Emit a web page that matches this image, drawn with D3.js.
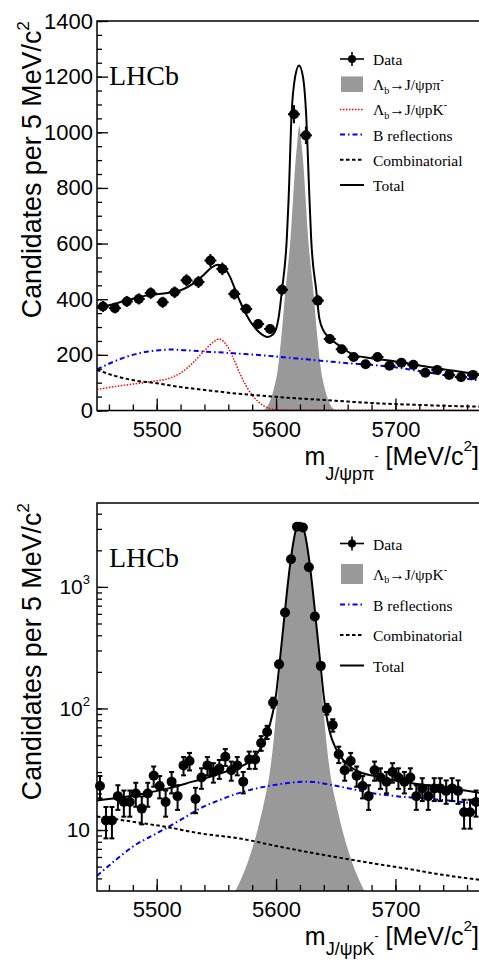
<!DOCTYPE html>
<html>
<head>
<meta charset="utf-8">
<script src="https://cdn.jsdelivr.net/npm/d3@7"></script>
<style>
body { margin: 0; background: #fff; }
svg { display: block; }
</style>
</head>
<body>
<svg id="chart" width="479" height="961"></svg>
<script>
"use strict";

// ---------- shared ----------
const massTicks = [5500, 5600, 5700];
const massMinorTicks = [5460, 5480, 5500, 5520, 5540, 5560, 5580, 5600, 5620, 5640, 5660, 5680, 5700, 5720, 5740, 5760];

// ---------- upper panel: m(J/psi p pi-) ----------
const topYTicks = [0, 200, 400, 600, 800, 1000, 1200, 1400];
const topBins = [5455, 5465, 5475, 5485, 5495, 5505, 5515, 5525, 5535, 5545, 5555, 5565, 5575, 5585, 5595, 5605,
    5615, 5625, 5635, 5645, 5655, 5665, 5675, 5685, 5695, 5705, 5715, 5725, 5735, 5745, 5755, 5765];
const topCounts = [374, 368, 392, 401, 422, 389, 425, 468, 462, 539, 509, 419, 365, 311, 293, 434,
    1065, 989, 395, 257, 220, 192, 166, 192, 161, 172, 164, 136, 146, 128, 120, 128];
const topSignal = [[5588.5, 0], [5591.5, 8], [5594.5, 30], [5597.9, 74], [5601.5, 150], [5604.2, 254], [5606, 340],
    [5607.9, 434], [5610, 520], [5612, 614], [5614.5, 780], [5616, 879], [5617.5, 950], [5619.5, 1023],
    [5621.5, 950], [5623, 879], [5624.5, 780], [5627, 614], [5629, 520], [5631.1, 434], [5633, 340],
    [5634.8, 254], [5637.5, 150], [5641.1, 74], [5644.5, 30], [5647.5, 8], [5650.5, 0]];
const topPKReflection = [[5450, 76], [5465, 86], [5480, 95], [5495, 104], [5510, 115], [5520, 135], [5530, 170],
    [5540, 215], [5548, 248], [5552, 257], [5556, 248], [5560, 225], [5565, 180], [5570, 130], [5575, 88],
    [5580, 55], [5585, 32], [5590, 16], [5595, 7], [5600, 3], [5610, 1], [5640, 0.5], [5770, 0.5]];
const topBReflection = [[5450, 148], [5460, 168], [5470, 186], [5480, 200], [5490, 210], [5500, 216], [5510, 219],
    [5520, 218], [5530, 215], [5540, 212], [5560, 207], [5580, 201], [5600, 194], [5620, 186], [5640, 178],
    [5660, 170], [5680, 164], [5700, 155], [5720, 142], [5740, 128], [5760, 114], [5770, 108]];
const topCombinatorial = [[5450, 146], [5467, 122], [5483, 107], [5500, 98], [5517, 86], [5540, 74], [5560, 64],
    [5580, 56], [5600, 49], [5620, 43], [5640, 38], [5660, 32], [5680, 27], [5700, 23], [5720, 20], [5740, 17], [5770, 14]];
const topTotal = [[5450, 368], [5460, 378], [5470, 390], [5480, 402], [5490, 412], [5500, 418], [5510, 423],
    [5520, 432], [5530, 454], [5540, 490], [5546, 514], [5551, 524], [5556, 516], [5561, 484], [5566, 432],
    [5570, 390], [5575, 345], [5580, 310], [5585, 285], [5590, 268], [5593, 264], [5597, 272], [5600, 292],
    [5602, 330], [5605, 434], [5609, 618], [5610.5, 759], [5613, 1065], [5616, 1200], [5619.3, 1240],
    [5622.5, 1200], [5625.2, 1065], [5628, 759], [5629.4, 618], [5633.6, 434], [5636.3, 330], [5640, 285],
    [5644, 264], [5654, 230], [5665, 200], [5680, 188], [5700, 176], [5720, 162], [5740, 148], [5760, 136], [5770, 130]];

// ---------- lower panel: m(J/psi p K-) ----------
const botYTicks = [10, 100, 1000];
const botYLabels = ["10", "10^2", "10^3"];
const botBins = [5452.5, 5457.5, 5462.5, 5467.5, 5472.5, 5477.5, 5482.5, 5487.5, 5492.5, 5497.5,
    5502.5, 5507.5, 5512.5, 5517.5, 5522.5, 5527.5, 5532.5, 5537.5, 5542.5, 5547.5,
    5552.5, 5557.5, 5562.5, 5567.5, 5572.5, 5577.5, 5582.5, 5587.5, 5592.5, 5597.5,
    5602.5, 5607.5, 5612.5, 5617.5, 5622.5, 5627.5, 5632.5, 5637.5, 5642.5, 5647.5,
    5652.5, 5657.5, 5662.5, 5667.5, 5672.5, 5677.5, 5682.5, 5687.5, 5692.5, 5697.5,
    5702.5, 5707.5, 5712.5, 5717.5, 5722.5, 5727.5, 5732.5, 5737.5, 5742.5, 5747.5,
    5752.5, 5757.5, 5762.5, 5767.5];
const botCounts = [23, 12, 12, 19, 17, 17, 20, 15, 20, 28,
    23, 17, 25, 19, 34, 37, 18, 27, 34, 30,
    32, 40, 31, 34, 25, 38, 38, 52, 64, 112,
    231, 615, 1690, 3130, 3080, 1452, 570, 224, 99, 73,
    42, 31, 37, 28, 23, 19, 31, 27, 25, 30,
    27, 25, 27, 19, 22, 19, 22, 22, 21, 22,
    21, 14, 14, 17];
const botSignal = [[5562, 2.6], [5566, 3.15], [5570, 3.8], [5575, 5.0], [5580, 7.0], [5585, 10.5], [5590, 17],
    [5595, 31], [5598, 55], [5600, 90], [5603, 200], [5606, 420], [5609, 850], [5612, 1550], [5615, 2450],
    [5617.5, 3100], [5620, 3330], [5622.5, 3100], [5625, 2450], [5628, 1550], [5631, 850], [5634, 420],
    [5637, 200], [5640, 90], [5642, 55], [5645, 31], [5650, 17], [5655, 10.5], [5660, 7.0], [5665, 5.0],
    [5670, 3.8], [5674, 3.15], [5678, 2.6]];
const botBReflection = [[5450, 4.2], [5465, 5.6], [5480, 7.3], [5500, 9.4], [5520, 12.1], [5536, 15], [5553, 17.7],
    [5570, 20.3], [5598, 23.4], [5626, 25], [5654, 22.7], [5682, 20], [5710, 18.6], [5738, 17.7], [5770, 16.4]];
const botCombinatorial = [[5450, 12.9], [5480, 11.7], [5508, 10.6], [5536, 9.4], [5570, 8.5], [5600, 7.4],
    [5626, 6.6], [5654, 5.9], [5682, 5.3], [5710, 4.8], [5738, 4.3], [5770, 3.9]];
const botTotal = [[5450, 17.5], [5470, 18.5], [5490, 20], [5510, 22], [5530, 25], [5550, 28.5], [5565, 32],
    [5575, 35], [5582, 40], [5587, 47], [5591, 57], [5595, 75], [5598, 100], [5600, 130], [5603, 240],
    [5606, 460], [5609, 890], [5612, 1590], [5615, 2490], [5617.5, 3140], [5620, 3370], [5622.5, 3140],
    [5625, 2490], [5628, 1590], [5631, 890], [5634, 460], [5637, 240], [5640, 125], [5642, 90], [5645, 64],
    [5650, 47], [5655, 39], [5660, 34.5], [5670, 30], [5685, 27.5], [5700, 25.5], [5720, 23.8], [5740, 22.4],
    [5760, 21], [5770, 20.3]];

const SANS = "'Liberation Sans', Arial, Helvetica, sans-serif";
const SERIF = "'Liberation Serif', 'Times New Roman', Times, serif";
const BLUE = "#0000ff";
const RED = "#ff0000";
const GREY = "#999999";

const svg = d3.select("#chart");
const x = d3.scaleLinear().domain([5450, 5770]).range([97, 479]);

// text made of pieces: [string, mode], mode = "", "sub", "sup", "subsup"
function richText(sel, parts, fs, shifts) {
    let cur = 0;
    parts.forEach(function(p) {
        let s = shifts[p[1] || ""];
        let off = s[0] * fs;
        sel.append("tspan")
            .attr("dy", off - cur)
            .attr("font-size", s[1] * fs)
            .text(p[0]);
        cur = off;
    });
}

function styleAxis(g, fs) {
    g.select(".domain").remove();
    g.selectAll(".tick line").attr("stroke", "#000").attr("stroke-width", 1.3);
    g.selectAll("text")
        .attr("fill", "#000")
        .style("font-family", SANS)
        .style("font-size", fs + "px");
}

function drawPanel(p) {
    let g = svg.append("g");
    let y = p.y;

    g.append("clipPath").attr("id", p.id + "clip")
        .append("rect")
        .attr("x", 97).attr("y", p.top)
        .attr("width", 400).attr("height", p.bottom - p.top);

    let plot = g.append("g").attr("clip-path", `url(#${p.id}clip)`);

    plot.append("path")
        .datum(p.signal)
        .attr("fill", GREY)
        .attr("d", d3.area()
            .x(d => x(d[0]))
            .y0(p.bottom + 5)
            .y1(d => y(d[1]))
            .curve(d3.curveMonotoneX));

    // frame
    g.append("rect")
        .attr("x", 97).attr("y", p.top)
        .attr("width", 400).attr("height", p.bottom - p.top)
        .attr("fill", "none").attr("stroke", "#000").attr("stroke-width", 1.5);

    let line = d3.line().x(d => x(d[0])).y(d => y(d[1])).curve(d3.curveMonotoneX);
    p.curves.forEach(function(c) {
        plot.append("path")
            .datum(c.data)
            .attr("fill", "none")
            .attr("stroke", c.color)
            .attr("stroke-width", c.width)
            .attr("stroke-dasharray", c.dash)
            .attr("d", line);
    });

    // x axis
    let xa = g.append("g").attr("transform", `translate(0,${p.bottom})`)
        .call(d3.axisBottom(x).tickValues(massTicks).tickSize(-12).tickPadding(10.5).tickFormat(d3.format("d")));
    styleAxis(xa, 22);
    let xm = g.append("g").attr("transform", `translate(0,${p.bottom})`)
        .call(d3.axisBottom(x).tickValues(massMinorTicks).tickSize(-6).tickFormat(""));
    styleAxis(xm, 22);

    // y axis
    let ya = g.append("g").attr("transform", "translate(97,0)")
        .call(d3.axisLeft(y).tickValues(p.yTicks).tickSize(-11).tickPadding(p.yPad).tickFormat(p.yFormat));
    styleAxis(ya, p.yFont);
    let ym = g.append("g").attr("transform", "translate(97,0)")
        .call(d3.axisLeft(y).tickValues(p.yMinor).tickSize(-5).tickFormat(""));
    styleAxis(ym, p.yFont);
    if (p.yLabels) {
        ya.selectAll("text").each(function(d, i) {
            let t = d3.select(this).text("");
            let bits = p.yLabels[i].split("^");
            t.append("tspan").text(bits[0]);
            if (bits[1]) {
                t.append("tspan").attr("dy", "-0.75em").attr("font-size", "0.62em").text(bits[1]);
            }
        });
    }

    // data points
    let pts = g.append("g");
    p.bins.forEach(function(m, i) {
        let v = p.counts[i];
        let e = Math.sqrt(v);
        let cx = x(m), cy = y(v);
        let y1 = y(v + e), y2 = y(Math.max(v - e, 0.1));
        pts.append("line").attr("x1", cx).attr("x2", cx).attr("y1", y1).attr("y2", y2)
            .attr("stroke", "#000").attr("stroke-width", 2);
        pts.append("line").attr("x1", x(m - p.half)).attr("x2", x(m + p.half)).attr("y1", cy).attr("y2", cy)
            .attr("stroke", "#000").attr("stroke-width", 2);
        if (p.cap) {
            [y1, y2].forEach(function(yy) {
                pts.append("line").attr("x1", cx - p.cap).attr("x2", cx + p.cap).attr("y1", yy).attr("y2", yy)
                    .attr("stroke", "#000").attr("stroke-width", 2);
            });
        }
        pts.append("circle").attr("cx", cx).attr("cy", cy).attr("r", p.r).attr("fill", "#000");
    });

    // LHCb label
    g.append("text").attr("x", 109).attr("y", p.lhcbY)
        .style("font-family", SERIF).style("font-size", "28px").text("LHCb");

    // y title
    let yt = g.append("text")
        .attr("transform", `translate(41,${p.top}) rotate(-90)`)
        .attr("text-anchor", "end")
        .style("font-family", SANS);
    richText(yt, [["Candidates per 5 MeV/c", ""], ["2", "sup"]], 26.8, { "": [0, 1], sup: [-0.45, 0.65] });

    // x title
    let xt = g.append("text")
        .attr("x", 479).attr("y", p.xTitleY)
        .attr("text-anchor", "end")
        .style("font-family", SANS);
    richText(xt, p.xTitle, 25, { "": [0, 1], sub: [p.subOff, 0.72], subsup: [-0.2, 0.5], sup: [-0.55, 0.62] });

    // legend
    let lg = g.append("g");
    p.legend.forEach(function(item, i) {
        let by = p.legY + i * p.legDy;
        let sy = by - 6;
        if (item.kind === "data") {
            lg.append("line").attr("x1", 340).attr("x2", 364).attr("y1", sy).attr("y2", sy)
                .attr("stroke", "#000").attr("stroke-width", 1.6);
            lg.append("line").attr("x1", 352).attr("x2", 352).attr("y1", sy - 7).attr("y2", sy + 7)
                .attr("stroke", "#000").attr("stroke-width", 1.6);
            lg.append("circle").attr("cx", 352).attr("cy", sy).attr("r", 4).attr("fill", "#000");
        } else if (item.kind === "fill") {
            lg.append("rect").attr("x", 341).attr("y", sy - p.boxH / 2).attr("width", 22).attr("height", p.boxH)
                .attr("fill", GREY);
        } else {
            lg.append("line").attr("x1", 340).attr("x2", 364).attr("y1", sy).attr("y2", sy)
                .attr("stroke", item.color).attr("stroke-width", item.width).attr("stroke-dasharray", item.dash);
        }
        let t = lg.append("text").attr("x", 373).attr("y", by).style("font-family", SERIF);
        richText(t, item.label, 15.5, { "": [0, 1], sub: [0.22, 0.65], sup: [-0.45, 0.65] });
    });
}

const styleRed = { color: RED, width: 1.5, dash: "1.5,1.5" };
const styleBlue = { color: BLUE, width: 2, dash: "5,3,1.5,3" };
const styleComb = { color: "#000", width: 2, dash: "3.5,2.5" };
const styleTotal = { color: "#000", width: 2, dash: null };

const yTop = d3.scaleLinear().domain([0, 1400]).range([410.5, 21]);
drawPanel({
    id: "top", top: 21, bottom: 410.5, y: yTop,
    yTicks: topYTicks, yMinor: d3.range(0, 1401, 50), yFormat: d3.format("d"), yPad: 4, yFont: 22,
    bins: topBins, counts: topCounts, half: 5, r: 5, cap: 0,
    signal: topSignal,
    curves: [
        Object.assign({ data: topPKReflection }, styleRed),
        Object.assign({ data: topBReflection }, styleBlue),
        Object.assign({ data: topCombinatorial }, styleComb),
        Object.assign({ data: topTotal }, styleTotal)
    ],
    lhcbY: 85,
    xTitleY: 464.5, subOff: 0.62,
    xTitle: [["m", ""], ["J/\u03C8p\u03C0", "sub"], ["-", "subsup"], [" [MeV/c", ""], ["2", "sup"], ["]", ""]],
    legY: 65, legDy: 25.2, boxH: 15.5,
    legend: [
        { kind: "data", label: [["Data", ""]] },
        { kind: "fill", label: [["\u039B", ""], ["b", "sub"], ["\u2192J/\u03C8p\u03C0", ""], ["-", "sup"]] },
        Object.assign({ kind: "line", label: [["\u039B", ""], ["b", "sub"], ["\u2192J/\u03C8pK", ""], ["-", "sup"]] }, styleRed),
        Object.assign({ kind: "line", label: [["B reflections", ""]] }, styleBlue),
        Object.assign({ kind: "line", label: [["Combinatorial", ""]] }, styleComb),
        Object.assign({ kind: "line", label: [["Total", ""]] }, styleTotal)
    ]
});

const yBot = d3.scaleLog().domain([3.15, 4900]).range([891, 503]);
drawPanel({
    id: "bot", top: 503, bottom: 891, y: yBot,
    yTicks: botYTicks, yMinor: yBot.ticks(), yFormat: d3.format("d"), yPad: 7, yFont: 21,
    yLabels: botYLabels,
    bins: botBins, counts: botCounts, half: 2.5, r: 5, cap: 2.5,
    signal: botSignal,
    curves: [
        Object.assign({ data: botBReflection }, styleBlue),
        Object.assign({ data: botCombinatorial }, styleComb),
        Object.assign({ data: botTotal }, styleTotal)
    ],
    lhcbY: 567,
    xTitleY: 944.5, subOff: 0.42,
    xTitle: [["m", ""], ["J/\u03C8pK", "sub"], ["-", "subsup"], [" [MeV/c", ""], ["2", "sup"], ["]", ""]],
    legY: 549.5, legDy: 30.5, boxH: 20,
    legend: [
        { kind: "data", label: [["Data", ""]] },
        { kind: "fill", label: [["\u039B", ""], ["b", "sub"], ["\u2192J/\u03C8pK", ""], ["-", "sup"]] },
        Object.assign({ kind: "line", label: [["B reflections", ""]] }, styleBlue),
        Object.assign({ kind: "line", label: [["Combinatorial", ""]] }, styleComb),
        Object.assign({ kind: "line", label: [["Total", ""]] }, styleTotal)
    ]
});
</script>
</body>
</html>
